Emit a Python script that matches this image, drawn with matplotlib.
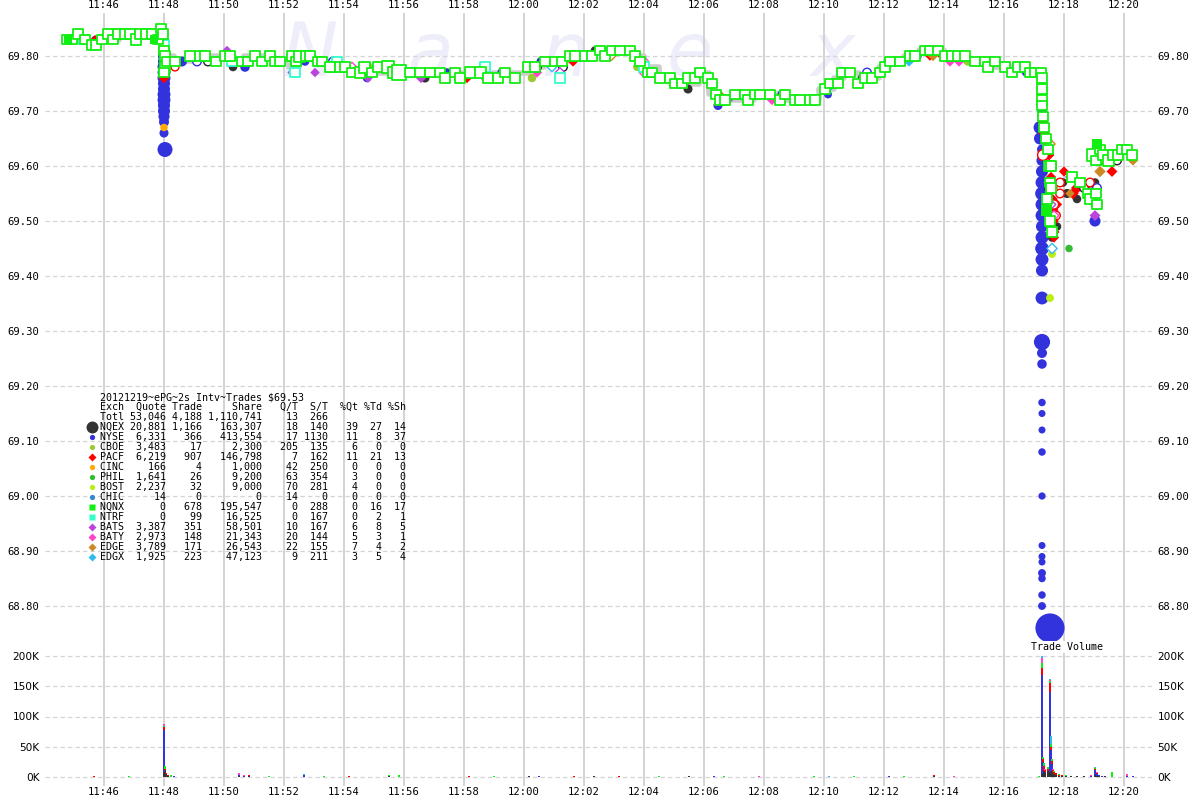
import matplotlib
matplotlib.use("Agg")
import matplotlib.pyplot as plt
import matplotlib.dates as mdates
import matplotlib.ticker as mticker
import numpy as np
import pandas as pd

DAY = "2012-12-19"

# ---------------- data ----------------
# background best-price path (time, price)
gray_time = ["11:44:40", "11:45:30", "11:45:50", "11:46:30", "11:47:50", "11:48:00", "11:48:20",
             "11:49:00", "11:50:20", "11:50:40", "11:51:40", "11:52:10", "11:52:30", "11:53:00",
             "11:53:30", "11:54:20", "11:55:40", "11:58:30", "12:00:10", "12:00:40", "12:01:40",
             "12:02:20", "12:03:40", "12:04:00", "12:04:30", "12:05:00", "12:05:50", "12:06:10",
             "12:06:30", "12:07:40", "12:08:40", "12:09:50", "12:10:20", "12:10:40", "12:11:10",
             "12:11:50", "12:12:10", "12:12:40", "12:13:10", "12:14:00", "12:14:40", "12:15:30",
             "12:16:40", "12:17:16"]
gray_price = [69.83, 69.82, 69.83, 69.84, 69.85, 69.80, 69.79,
              69.80, 69.79, 69.80, 69.79, 69.78, 69.80, 69.79,
              69.78, 69.77, 69.77, 69.77, 69.78, 69.79, 69.80,
              69.81, 69.80, 69.78, 69.76, 69.75, 69.77, 69.73,
              69.72, 69.73, 69.72, 69.74, 69.76, 69.77, 69.76,
              69.78, 69.79, 69.80, 69.81, 69.80, 69.79, 69.78,
              69.77, 69.77]

# trades per exchange: (time, price, shares)
nqnx_hollow = [
    ("11:44:46", 69.83, 3000), ("11:44:56", 69.83, 3000), ("11:45:08", 69.84, 4000), ("11:45:22", 69.83, 3000),
    ("11:45:36", 69.82, 5000), ("11:45:44", 69.82, 3000), ("11:45:56", 69.83, 3000), ("11:46:08", 69.84, 4000),
    ("11:46:18", 69.83, 3000), ("11:46:28", 69.84, 5000), ("11:46:42", 69.84, 4000), ("11:46:52", 69.84, 3000),
    ("11:47:04", 69.83, 5000), ("11:47:12", 69.84, 3000), ("11:47:24", 69.84, 4000), ("11:47:36", 69.84, 3000),
    ("11:47:48", 69.83, 3000), ("11:47:54", 69.85, 4000), ("11:47:58", 69.84, 3000),
    ("11:48:00", 69.81, 3000), ("11:48:02", 69.80, 3000), ("11:48:02", 69.78, 3000), ("11:48:00", 69.77, 3000),
    ("11:48:06", 69.79, 4000), ("11:48:22", 69.79, 3000), ("11:48:52", 69.80, 4000), ("11:49:12", 69.80, 5000),
    ("11:49:22", 69.80, 5000), ("11:49:44", 69.79, 3000), ("11:50:02", 69.80, 4000), ("11:50:12", 69.80, 3000),
    ("11:50:36", 69.79, 3000), ("11:50:48", 69.79, 3000), ("11:51:02", 69.80, 3000), ("11:51:16", 69.79, 3000),
    ("11:51:32", 69.80, 3000), ("11:51:42", 69.79, 4000), ("11:51:52", 69.79, 3000), ("11:52:16", 69.80, 5000),
    ("11:52:24", 69.79, 3000), ("11:52:32", 69.80, 6000), ("11:52:44", 69.80, 4000), ("11:52:52", 69.80, 5000),
    ("11:53:08", 69.79, 3000), ("11:53:16", 69.79, 3000), ("11:53:32", 69.78, 3000), ("11:53:52", 69.78, 4000),
    ("11:54:02", 69.78, 3000), ("11:54:16", 69.77, 3000), ("11:54:32", 69.77, 5000), ("11:54:42", 69.78, 6000),
    ("11:54:56", 69.77, 4000), ("11:55:08", 69.78, 5000), ("11:55:28", 69.78, 7000), ("11:55:38", 69.77, 6000),
    ("11:55:50", 69.77, 15000), ("11:56:12", 69.77, 3000), ("11:56:32", 69.77, 3000), ("11:56:52", 69.77, 3000),
    ("11:57:12", 69.77, 3000), ("11:57:22", 69.76, 3000), ("11:57:42", 69.77, 3000), ("11:57:52", 69.76, 3000),
    ("11:58:12", 69.77, 5000), ("11:58:32", 69.77, 6000), ("11:58:48", 69.76, 5000), ("11:59:08", 69.76, 3000),
    ("11:59:22", 69.77, 3000), ("11:59:42", 69.76, 3000), ("12:00:08", 69.78, 3000), ("12:00:22", 69.78, 4000),
    ("12:00:42", 69.79, 3000), ("12:01:02", 69.79, 3000), ("12:01:16", 69.79, 3000), ("12:01:32", 69.80, 4000),
    ("12:01:42", 69.80, 3000), ("12:02:02", 69.80, 3000), ("12:02:16", 69.80, 4000), ("12:02:32", 69.81, 3000),
    ("12:02:42", 69.80, 3000), ("12:02:56", 69.81, 3000), ("12:03:12", 69.81, 3000), ("12:03:32", 69.81, 3000),
    ("12:03:42", 69.80, 3000), ("12:03:52", 69.79, 3000), ("12:04:08", 69.77, 3000), ("12:04:16", 69.77, 3000),
    ("12:04:32", 69.76, 4000), ("12:04:52", 69.76, 3000), ("12:05:02", 69.75, 3000), ("12:05:16", 69.75, 3000),
    ("12:05:28", 69.76, 3000), ("12:05:42", 69.76, 3000), ("12:05:52", 69.77, 3000), ("12:06:08", 69.76, 3000),
    ("12:06:16", 69.75, 3000), ("12:06:24", 69.73, 3000), ("12:06:32", 69.72, 3000), ("12:06:42", 69.72, 5000),
    ("12:07:02", 69.73, 3000), ("12:07:22", 69.73, 3000), ("12:07:28", 69.72, 3000), ("12:07:42", 69.73, 3000),
    ("12:07:52", 69.73, 3000), ("12:08:12", 69.73, 3000), ("12:08:32", 69.72, 3000), ("12:08:42", 69.73, 3000),
    ("12:09:02", 69.72, 3000), ("12:09:12", 69.72, 3000), ("12:09:32", 69.72, 3000), ("12:09:42", 69.72, 3000),
    ("12:10:02", 69.74, 3000), ("12:10:12", 69.75, 3000), ("12:10:28", 69.75, 3000), ("12:10:36", 69.77, 3000),
    ("12:10:52", 69.77, 3000), ("12:11:08", 69.75, 4000), ("12:11:22", 69.76, 3000), ("12:11:36", 69.76, 3000),
    ("12:11:52", 69.77, 3000), ("12:12:02", 69.78, 3000), ("12:12:12", 69.79, 3000), ("12:12:32", 69.79, 3000),
    ("12:12:52", 69.80, 3000), ("12:13:02", 69.80, 3000), ("12:13:22", 69.81, 3000), ("12:13:32", 69.81, 3000),
    ("12:13:48", 69.81, 3000), ("12:14:02", 69.80, 3000), ("12:14:16", 69.80, 3000), ("12:14:28", 69.80, 3000),
    ("12:14:42", 69.80, 3000), ("12:15:02", 69.79, 3000), ("12:15:22", 69.79, 3000), ("12:15:28", 69.78, 4000),
    ("12:15:42", 69.79, 3000), ("12:16:02", 69.78, 3000), ("12:16:16", 69.77, 3000), ("12:16:28", 69.78, 4000),
    ("12:16:42", 69.78, 3000), ("12:16:52", 69.77, 3000), ("12:17:02", 69.77, 3000), ("12:17:14", 69.77, 3000),
    ("12:17:16", 69.76, 3000), ("12:17:16", 69.74, 3000), ("12:17:16", 69.72, 3000), ("12:17:16", 69.71, 3000),
    ("12:17:18", 69.69, 3000), ("12:17:20", 69.67, 3000), ("12:17:24", 69.65, 3000), ("12:17:28", 69.63, 3000),
    ("12:17:30", 69.60, 3000), ("12:17:32", 69.57, 3000), ("12:17:26", 69.54, 3000), ("12:17:32", 69.50, 3000),
    ("12:17:36", 69.48, 3000), ("12:17:34", 69.60, 3000), ("12:17:34", 69.56, 3000),
    ("12:18:16", 69.58, 3000), ("12:18:32", 69.57, 3000), ("12:18:48", 69.55, 3000), ("12:18:52", 69.54, 3000),
    ("12:18:58", 69.62, 8000), ("12:19:04", 69.61, 3000), ("12:19:12", 69.63, 3000), ("12:19:18", 69.62, 3000),
    ("12:19:28", 69.61, 6000), ("12:19:38", 69.62, 3000), ("12:19:48", 69.62, 3000), ("12:19:56", 69.63, 3000),
    ("12:20:06", 69.63, 3000), ("12:20:16", 69.62, 3000), ("12:19:04", 69.55, 3000), ("12:19:06", 69.53, 3000),
]
nqnx_filled = [("11:44:48", 69.83, 2000), ("11:47:40", 69.83, 2000), ("12:17:26", 69.52, 6000),
               ("12:19:06", 69.64, 4000)]
ntrf_hollow = [("11:45:18", 69.83, 3000), ("11:48:00", 69.82, 3000), ("11:50:16", 69.79, 3000),
               ("11:52:22", 69.77, 3000), ("11:53:36", 69.78, 3000), ("11:53:46", 69.79, 3000),
               ("11:56:12", 69.77, 3000), ("11:58:42", 69.78, 3000), ("12:01:12", 69.76, 3000),
               ("12:04:00", 69.78, 3000), ("12:17:16", 69.74, 4000)]
nyse_filled = [
    ("11:45:42", 69.83, 1500), ("11:46:32", 69.84, 1500),
    ("11:48:00", 69.80, 12000), ("11:48:00", 69.79, 12000), ("11:48:00", 69.78, 15000), ("11:48:00", 69.77, 15000),
    ("11:48:00", 69.76, 15000), ("11:48:00", 69.75, 12000), ("11:48:00", 69.74, 12000), ("11:48:00", 69.73, 15000),
    ("11:48:00", 69.72, 15000), ("11:48:00", 69.71, 12000), ("11:48:00", 69.70, 12000), ("11:48:00", 69.69, 9000),
    ("11:48:00", 69.68, 6000), ("11:48:00", 69.66, 4000), ("11:48:02", 69.63, 24000),
    ("11:48:36", 69.79, 6000), ("11:50:42", 69.78, 5000), ("11:52:42", 69.79, 3000), ("11:54:46", 69.76, 3000),
    ("11:57:26", 69.77, 3000), ("11:58:12", 69.77, 2000), ("12:00:34", 69.79, 4000), ("12:06:28", 69.71, 4000),
    ("12:10:08", 69.73, 2000), ("12:12:08", 69.79, 3000), ("12:16:44", 69.77, 2000),
    ("12:17:16", 69.76, 6000), ("12:17:16", 69.74, 9000), ("12:17:16", 69.72, 6000), ("12:17:16", 69.70, 5000),
    ("12:17:12", 69.67, 15000), ("12:17:12", 69.65, 12000), ("12:17:16", 69.63, 6000), ("12:17:16", 69.61, 9000),
    ("12:17:16", 69.59, 12000), ("12:17:16", 69.57, 15000), ("12:17:16", 69.55, 18000), ("12:17:16", 69.53, 15000),
    ("12:17:16", 69.51, 15000), ("12:17:16", 69.49, 12000), ("12:17:16", 69.47, 15000), ("12:17:16", 69.45, 18000),
    ("12:17:16", 69.43, 15000), ("12:17:16", 69.41, 12000), ("12:17:16", 69.36, 15000),
    ("12:17:16", 69.28, 30000), ("12:17:16", 69.26, 6000), ("12:17:16", 69.24, 5000),
    ("12:17:16", 69.17, 1500), ("12:17:16", 69.15, 1000), ("12:17:16", 69.12, 1000), ("12:17:16", 69.08, 1500),
    ("12:17:16", 69.00, 1200), ("12:17:16", 68.91, 1000), ("12:17:16", 68.89, 1000), ("12:17:16", 68.88, 1000),
    ("12:17:16", 68.86, 2000), ("12:17:16", 68.85, 1500), ("12:17:16", 68.82, 1500), ("12:17:16", 68.80, 2000),
    ("12:17:32", 68.76, 140000), ("12:19:02", 69.50, 9000),
]
nyse_hollow = [("11:46:26", 69.84, 2000), ("11:49:06", 69.79, 3000), ("11:53:38", 69.79, 3000),
               ("11:59:16", 69.77, 2000), ("12:05:02", 69.75, 2000), ("12:08:36", 69.73, 2000),
               ("12:11:26", 69.77, 3000), ("12:13:06", 69.80, 2000), ("12:17:06", 69.77, 3000),
               ("12:19:18", 69.62, 3000), ("12:19:08", 69.62, 3000), ("12:19:06", 69.56, 3000),
               ("12:19:32", 69.61, 2000)]
pacf_filled = [("11:45:42", 69.83, 1500), ("11:48:00", 69.80, 1500), ("11:48:00", 69.76, 4000),
               ("11:50:32", 69.79, 2000), ("11:58:06", 69.76, 3000), ("12:01:38", 69.79, 3000),
               ("12:03:08", 69.81, 2000), ("12:10:50", 69.77, 1500), ("12:13:32", 69.80, 2000),
               ("12:13:56", 69.80, 2000), ("12:17:16", 69.69, 3000), ("12:17:18", 69.68, 3000),
               ("12:17:20", 69.66, 5000), ("12:17:24", 69.65, 4000), ("12:17:28", 69.63, 5000),
               ("12:17:30", 69.62, 4000), ("12:17:34", 69.58, 3000), ("12:17:36", 69.56, 6000),
               ("12:17:36", 69.54, 5000), ("12:17:38", 69.52, 4000), ("12:17:38", 69.50, 5000),
               ("12:17:40", 69.48, 4000), ("12:17:40", 69.47, 3000), ("12:17:46", 69.53, 3000),
               ("12:18:00", 69.59, 3000), ("12:18:18", 69.55, 5000), ("12:18:26", 69.56, 6000),
               ("12:18:42", 69.56, 4000), ("12:19:36", 69.59, 4000)]
pacf_hollow = [("11:48:22", 69.78, 2000), ("11:56:32", 69.77, 2000), ("11:57:50", 69.76, 2000),
               ("12:16:52", 69.77, 2000), ("12:17:18", 69.62, 8000), ("12:17:36", 69.60, 3000),
               ("12:17:40", 69.53, 4000), ("12:17:44", 69.51, 3000), ("12:17:52", 69.55, 3000),
               ("12:17:52", 69.57, 3000), ("12:18:52", 69.57, 3000)]
nqex_filled = [("11:50:18", 69.78, 3000), ("11:50:26", 69.79, 3000), ("11:56:42", 69.76, 4000),
               ("12:00:12", 69.78, 3000), ("12:02:22", 69.81, 3000), ("12:02:56", 69.81, 3000),
               ("12:05:28", 69.74, 4000), ("12:10:12", 69.75, 3000), ("12:13:46", 69.81, 4000),
               ("12:17:36", 69.47, 3000), ("12:17:46", 69.49, 3000), ("12:17:58", 69.57, 3000),
               ("12:18:06", 69.55, 4000), ("12:18:26", 69.54, 3000), ("12:19:02", 69.57, 3000),
               ("12:19:02", 69.53, 3000), ("12:20:16", 69.62, 2000)]
nqex_hollow = [("11:49:28", 69.79, 3000), ("12:00:26", 69.78, 3000), ("12:01:18", 69.78, 3000),
               ("12:10:36", 69.77, 3000), ("12:11:18", 69.76, 3000), ("12:17:30", 69.56, 3000),
               ("12:18:40", 69.56, 3000), ("12:19:12", 69.61, 3000), ("12:19:46", 69.61, 3000)]
bats_filled = [("11:50:06", 69.81, 2000), ("11:53:02", 69.77, 2000), ("11:54:48", 69.76, 2000),
               ("11:56:34", 69.76, 3000), ("12:06:48", 69.72, 3000), ("12:12:04", 69.78, 3000),
               ("12:18:12", 69.58, 3000), ("12:19:02", 69.51, 4000), ("12:17:28", 69.57, 2000)]
bats_hollow = [("11:52:18", 69.77, 2000), ("11:56:58", 69.77, 2000), ("12:01:12", 69.77, 2000),
               ("12:17:34", 69.53, 2000)]
baty_filled = [("11:52:28", 69.80, 2000), ("11:58:42", 69.76, 3000), ("12:00:26", 69.77, 3000),
               ("12:08:16", 69.72, 3000), ("12:14:12", 69.79, 3000), ("12:14:30", 69.79, 3000),
               ("12:17:30", 69.64, 2000)]
baty_hollow = [("11:54:16", 69.78, 2000), ("11:55:36", 69.77, 2000), ("12:04:00", 69.79, 2000),
               ("12:04:00", 69.77, 2000), ("12:17:40", 69.51, 2000)]
edge_filled = [("11:47:58", 69.82, 1500), ("12:06:32", 69.73, 2000), ("12:13:38", 69.80, 3000),
               ("12:18:12", 69.55, 2000), ("12:18:38", 69.57, 3000), ("12:19:12", 69.59, 5000),
               ("12:20:18", 69.61, 3000)]
edge_hollow = [("12:02:54", 69.80, 2000), ("12:17:32", 69.64, 3000)]
edgx_filled = [("11:47:46", 69.84, 3000), ("11:47:52", 69.84, 3000), ("11:47:58", 69.84, 3000),
               ("11:48:00", 69.81, 2000), ("12:04:02", 69.78, 2000), ("12:10:08", 69.74, 2000),
               ("12:12:50", 69.79, 3000), ("12:14:30", 69.80, 3000), ("12:17:16", 69.76, 3000),
               ("12:17:16", 69.75, 3000), ("12:19:02", 69.56, 3000)]
edgx_hollow = [("12:00:56", 69.78, 2000), ("12:07:26", 69.72, 2000), ("12:17:36", 69.45, 3000),
               ("12:19:06", 69.53, 3000)]
cboe_filled = [("11:54:50", 69.78, 2000), ("12:00:16", 69.76, 3000), ("12:02:12", 69.80, 3000),
               ("12:03:46", 69.78, 2000), ("12:14:48", 69.79, 3000)]
bost_filled = [("12:17:36", 69.44, 2000), ("12:17:32", 69.36, 2000)]
phil_filled = [("12:18:10", 69.45, 1500)]
cinc_filled = [("11:48:00", 69.67, 1500), ("11:47:52", 69.83, 1000)]

# volume per 2-second bar: (time, NQEX, NYSE, PACF, NQNX, BATY, EDGX) shares
volume_bars = [
    ("11:44:50", 0, 0, 0, 800, 0, 0), ("11:45:06", 0, 0, 0, 600, 0, 0), ("11:45:20", 0, 0, 600, 0, 0, 0),
    ("11:45:40", 0, 500, 500, 0, 0, 0), ("11:46:10", 0, 0, 0, 700, 0, 0), ("11:46:24", 0, 0, 0, 500, 0, 0),
    ("11:46:50", 0, 0, 0, 1800, 0, 0), ("11:47:10", 0, 800, 0, 0, 0, 0), ("11:47:30", 0, 600, 0, 0, 0, 0),
    ("11:47:50", 0, 0, 0, 500, 0, 0),
    ("11:48:00", 8000, 70000, 5000, 2000, 3000, 0), ("11:48:02", 12000, 0, 2000, 4000, 0, 0),
    ("11:48:04", 5000, 0, 1000, 0, 0, 0), ("11:48:08", 2000, 0, 1500, 0, 0, 0), ("11:48:14", 0, 0, 0, 3000, 0, 0),
    ("11:48:20", 0, 1000, 1000, 0, 0, 0), ("11:48:40", 0, 0, 0, 800, 0, 0), ("11:49:10", 0, 500, 0, 0, 0, 0),
    ("11:49:20", 0, 0, 0, 800, 0, 0), ("11:49:40", 0, 0, 0, 0, 800, 0), ("11:50:00", 0, 0, 0, 700, 0, 0),
    ("11:50:30", 1500, 1000, 0, 1000, 2500, 0), ("11:50:40", 0, 1500, 0, 0, 1000, 0),
    ("11:50:50", 1000, 0, 2000, 0, 0, 0), ("11:51:10", 0, 0, 0, 600, 0, 0), ("11:51:30", 0, 0, 0, 1000, 0, 0),
    ("11:51:40", 0, 0, 0, 800, 0, 0), ("11:52:40", 0, 4000, 0, 0, 0, 1000), ("11:53:20", 0, 0, 0, 1200, 0, 0),
    ("11:54:10", 0, 0, 1000, 0, 0, 0), ("11:55:30", 1000, 0, 0, 1500, 0, 0), ("11:55:50", 0, 0, 0, 2500, 0, 0),
    ("11:56:40", 0, 0, 0, 800, 0, 0), ("11:57:30", 0, 800, 0, 0, 0, 0), ("11:58:10", 0, 0, 1200, 0, 0, 0),
    ("11:59:00", 0, 0, 0, 1000, 0, 0), ("12:00:10", 1500, 0, 0, 0, 0, 0), ("12:00:30", 0, 1000, 0, 0, 1000, 0),
    ("12:01:40", 0, 0, 1500, 800, 0, 0), ("12:02:20", 1000, 0, 0, 0, 0, 0), ("12:03:10", 0, 0, 1000, 0, 0, 0),
    ("12:04:30", 0, 0, 0, 1200, 0, 0), ("12:05:30", 1500, 0, 0, 0, 0, 0), ("12:06:20", 0, 1500, 0, 0, 0, 800),
    ("12:06:40", 0, 0, 0, 1000, 0, 0), ("12:07:50", 0, 0, 0, 0, 1200, 0), ("12:08:40", 0, 0, 0, 800, 0, 0),
    ("12:09:40", 0, 0, 0, 1000, 0, 0), ("12:10:10", 0, 800, 0, 0, 0, 600), ("12:11:00", 0, 0, 0, 1000, 0, 0),
    ("12:12:10", 0, 1000, 0, 0, 0, 0), ("12:12:40", 0, 0, 0, 1000, 0, 0), ("12:13:40", 2000, 0, 800, 0, 0, 0),
    ("12:14:20", 0, 0, 0, 0, 1200, 0), ("12:15:20", 0, 0, 0, 800, 0, 0), ("12:16:00", 0, 0, 0, 600, 0, 0),
    ("12:16:40", 0, 0, 0, 700, 0, 0), ("12:17:10", 0, 0, 0, 1000, 0, 0),
    ("12:17:16", 5000, 163000, 12000, 8000, 8000, 4000), ("12:17:18", 25000, 0, 5000, 3000, 0, 0),
    ("12:17:20", 10000, 0, 8000, 5000, 0, 0), ("12:17:22", 8000, 0, 3000, 0, 3000, 0),
    ("12:17:28", 10000, 0, 4000, 2000, 0, 0), ("12:17:32", 8000, 132000, 15000, 3000, 2000, 2000),
    ("12:17:34", 10000, 35000, 5000, 5000, 0, 12000), ("12:17:36", 12000, 10000, 5000, 3000, 0, 0),
    ("12:17:38", 8000, 0, 4000, 0, 2000, 0), ("12:17:40", 5000, 0, 3000, 2000, 0, 0),
    ("12:17:44", 4000, 0, 2000, 0, 0, 0), ("12:17:50", 2000, 0, 1500, 2000, 0, 0),
    ("12:17:56", 2000, 0, 1000, 0, 0, 0), ("12:18:04", 1500, 0, 0, 1500, 0, 0),
    ("12:18:14", 1000, 0, 0, 0, 1000, 0), ("12:18:26", 1000, 500, 0, 0, 0, 0), ("12:18:40", 1500, 0, 0, 0, 0, 0),
    ("12:18:54", 500, 1000, 0, 0, 1000, 0), ("12:19:02", 3000, 8000, 2000, 2000, 0, 1500),
    ("12:19:06", 2000, 3000, 2000, 0, 1500, 0), ("12:19:10", 1000, 2000, 0, 0, 0, 1000),
    ("12:19:16", 0, 1500, 0, 0, 0, 0), ("12:19:22", 1000, 1000, 0, 0, 0, 0), ("12:19:36", 0, 0, 0, 9000, 0, 0),
    ("12:20:06", 0, 1500, 0, 0, 3000, 0), ("12:20:18", 0, 1500, 0, 0, 0, 0),
]

# summary table
tbl_title = "20121219~ePG~2s Intv~Trades $69.53"
tbl_exch = ["Totl", "NQEX", "NYSE", "CBOE", "PACF", "CINC", "PHIL", "BOST", "CHIC", "NQNX", "NTRF",
            "BATS", "BATY", "EDGE", "EDGX"]
tbl_quote = [53046, 20881, 6331, 3483, 6219, 166, 1641, 2237, 14, 0, 0, 3387, 2973, 3789, 1925]
tbl_trade = [4188, 1166, 366, 17, 907, 4, 26, 32, 0, 678, 99, 351, 148, 171, 223]
tbl_share = [1110741, 163307, 413554, 2300, 146798, 1000, 9200, 9000, 0, 195547, 16525, 58501, 21343,
             26543, 47123]
tbl_qt = [13, 18, 17, 205, 7, 42, 63, 70, 14, 0, 0, 10, 20, 22, 9]
tbl_st = [266, 140, 1130, 135, 162, 250, 354, 281, 0, 288, 167, 167, 144, 155, 211]
tbl_pqt = [None, 39, 11, 6, 11, 0, 3, 4, 0, 0, 0, 6, 5, 7, 3]
tbl_ptd = [None, 27, 8, 0, 21, 0, 0, 0, 0, 16, 2, 8, 3, 4, 5]
tbl_psh = [None, 14, 37, 0, 13, 0, 0, 0, 0, 17, 1, 5, 1, 2, 4]

x_start, x_end = "11:44:02", "12:20:56"

# ---------------- styling ----------------
COL = dict(NQEX="#333333", NYSE="#3333DD", CBOE="#99CC33", PACF="#FF0000", CINC="#FFAA00",
           PHIL="#33BB33", BOST="#BBEE11", CHIC="#3388CC", NQNX="#11EE11", NTRF="#33FFCC",
           BATS="#BB44DD", BATY="#FF44CC", EDGE="#CC8822", EDGX="#33BBEE")
MONO = "DejaVu Sans Mono"
W, H = 1200, 800


def tnum(ts):
    return mdates.date2num(pd.to_datetime([f"{DAY} {t}" for t in ts]))


def unpack(recs):
    t, p, s = zip(*recs)
    return tnum(t), np.array(p, float), np.array(s, float)


def msize(sh, scale=1.0):
    d = (5 + 25 * np.sqrt(sh / 150000.0)) * scale
    return (d * 72 / 100.0) ** 2


def rect(x0, y0, x1, y1):
    return [x0 / W, 1 - y1 / H, (x1 - x0) / W, (y1 - y0) / H]


fig = plt.figure(figsize=(12, 8), dpi=100)
axp = fig.add_axes(rect(45, 13, 1152, 648))
axv = fig.add_axes(rect(45, 648, 1152, 786), sharex=axp)

for ax in (axp, axv):
    for s in ax.spines.values():
        s.set_visible(False)
    ax.set_facecolor("white")
    ax.xaxis.set_major_locator(mdates.MinuteLocator(byminute=range(0, 60, 2)))
    ax.xaxis.set_major_formatter(mdates.DateFormatter("%H:%M"))
    ax.grid(axis="x", color="#CCCCCC", lw=1.2, ls="-")
    ax.grid(axis="y", color="#D4D4D4", lw=0.9, ls=(0, (3.5, 2.5)))
    ax.set_axisbelow(True)
    ax.tick_params(length=0)
    ax.tick_params(axis="y", left=True, right=True, labelleft=True, labelright=True, pad=4)

axp.tick_params(axis="x", top=True, bottom=False, labeltop=True, labelbottom=False, pad=2,
                labelsize=7.6, labelfontfamily=MONO)
axv.tick_params(axis="x", top=False, bottom=True, labeltop=False, labelbottom=True, pad=1,
                labelsize=7.6, labelfontfamily=MONO)
axp.tick_params(axis="y", labelsize=7.6, labelfontfamily=MONO)
axv.tick_params(axis="y", labelsize=7.6, labelfontfamily="DejaVu Sans")

xl = tnum([x_start, x_end])
axp.set_xlim(xl[0], xl[1])
# 55 px per 0.10 of price; axes spans y = 13 .. 648 px with 69.80 at y = 56
axp.set_ylim(69.80 - 592 / 550.0, 69.80 + 43 / 550.0)
axp.set_yticks(np.round(np.arange(68.80, 69.801, 0.10), 2))
axp.yaxis.set_major_formatter(mticker.FormatStrFormatter("%.2f"))

vpx = 200000 / 121.0
axv.set_ylim(-9 * vpx, 200000 + 8 * vpx)
axv.set_yticks([0, 50000, 100000, 150000, 200000])
axv.yaxis.set_major_formatter(mticker.FuncFormatter(lambda v, _: f"{int(round(v / 1000))}K"))

# watermark
for letter, px in zip("Nanex", [310, 431, 565, 690, 833]):
    axp.text(px / W, 1 - 76 / H, letter, transform=fig.transFigure, fontsize=54, style="italic",
             color="#EEEEFB", ha="center", va="baseline", zorder=0.5, family="DejaVu Sans")

# gray price path
axp.plot(tnum(gray_time), gray_price, color="#CCCCCC", lw=4.0, drawstyle="steps-post",
         solid_capstyle="butt", zorder=1)


def draw(recs, marker, color, hollow=False, z=4, scale=1.0, lw=1.0):
    t, p, s = unpack(recs)
    if hollow:
        axp.scatter(t, p, s=msize(s, scale), marker=marker, facecolors="white",
                    edgecolors=color, linewidths=lw, zorder=z)
    else:
        axp.scatter(t, p, s=msize(s, scale), marker=marker, c=color, edgecolors="none", zorder=z)


draw(nyse_filled, "o", COL["NYSE"], z=3)
draw(nqex_filled, "o", COL["NQEX"], z=4)
draw(cboe_filled, "o", COL["CBOE"], z=4)
draw(cinc_filled, "o", COL["CINC"], z=4)
draw(phil_filled, "o", COL["PHIL"], z=4)
draw(bost_filled, "o", COL["BOST"], z=4)
draw(pacf_filled, "D", COL["PACF"], z=4, scale=0.85)
draw(bats_filled, "D", COL["BATS"], z=4, scale=0.85)
draw(baty_filled, "D", COL["BATY"], z=4, scale=0.85)
draw(edge_filled, "D", COL["EDGE"], z=4, scale=0.85)
draw(edgx_filled, "D", COL["EDGX"], z=4, scale=0.85)
draw(nyse_hollow, "o", COL["NYSE"], hollow=True, z=5)
draw(nqex_hollow, "o", "#222222", hollow=True, z=5)
draw(pacf_hollow, "o", COL["PACF"], hollow=True, z=5)
draw(bats_hollow, "D", COL["BATS"], hollow=True, z=5, scale=0.85)
draw(baty_hollow, "D", COL["BATY"], hollow=True, z=5, scale=0.85)
draw(edge_hollow, "D", COL["EDGE"], hollow=True, z=5, scale=0.85)
draw(edgx_hollow, "D", COL["EDGX"], hollow=True, z=5, scale=0.85)
draw(ntrf_hollow, "s", COL["NTRF"], hollow=True, z=6, scale=1.1, lw=1.3)
draw(nqnx_hollow, "s", COL["NQNX"], hollow=True, z=6, scale=1.1, lw=1.3)
draw(nqnx_filled, "s", COL["NQNX"], z=6, scale=1.1)

# volume bars (stacked)
vt = tnum([r[0] for r in volume_bars])
vcomp = np.array([r[1:] for r in volume_bars], float)
vorder = ["NQEX", "NYSE", "PACF", "NQNX", "BATY", "EDGX"]
bottom = np.zeros(len(vt))
for i, ex in enumerate(vorder):
    axv.bar(vt, vcomp[:, i], bottom=bottom, width=2.4 / 86400, color=COL[ex], linewidth=0, zorder=3)
    bottom += vcomp[:, i]

# overlay for the table and labels
ov = fig.add_axes([0, 0, 1, 1], zorder=10)
ov.set_xlim(0, W)
ov.set_ylim(H, 0)
ov.axis("off")
ov.patch.set_alpha(0)


def cell(v, fmt="{:,}"):
    return "" if v is None else fmt.format(v)


lines = [tbl_title,
         f"{'Exch':<4}{'Quote':>7}{'Trade':>6}{'Share':>10}{'Q/T':>6}{'S/T':>5}{'%Qt':>5}{'%Td':>4}{'%Sh':>4}"]
for i in range(len(tbl_exch)):
    lines.append(f"{tbl_exch[i]:<4}{cell(tbl_quote[i]):>7}{cell(tbl_trade[i]):>6}{cell(tbl_share[i]):>10}"
                 f"{cell(tbl_qt[i], '{}'):>6}{cell(tbl_st[i], '{}'):>5}{cell(tbl_pqt[i], '{}'):>5}"
                 f"{cell(tbl_ptd[i], '{}'):>4}{cell(tbl_psh[i], '{}'):>4}".rstrip())
for k, line in enumerate(lines):
    ov.text(100, 397 + 10 * k, line, family=MONO, fontsize=7.2, ha="left", va="center", color="black")

legend_marker = dict(NQEX=("o", 8.6), NYSE=("o", 3.8), CBOE=("o", 3.8), PACF=("D", 4.2), CINC=("o", 3.8),
                     PHIL=("o", 3.8), BOST=("o", 3.8), CHIC=("o", 3.8), NQNX=("s", 3.8), NTRF=("s", 3.8),
                     BATS=("D", 4.2), BATY=("D", 4.2), EDGE=("D", 4.2), EDGX=("D", 4.2))
for k, ex in enumerate(tbl_exch):
    if ex in legend_marker:
        m, ms = legend_marker[ex]
        ov.plot([92], [397 + 10 * (k + 2)], marker=m, ms=ms, color=COL[ex], mec="none", ls="none")

ov.text(1067, 647, "Trade Volume", family=MONO, fontsize=7.2, ha="center", va="center",
        bbox=dict(facecolor="white", edgecolor="none", pad=0.6))

fig.savefig("out.png", dpi=100, facecolor="white")
